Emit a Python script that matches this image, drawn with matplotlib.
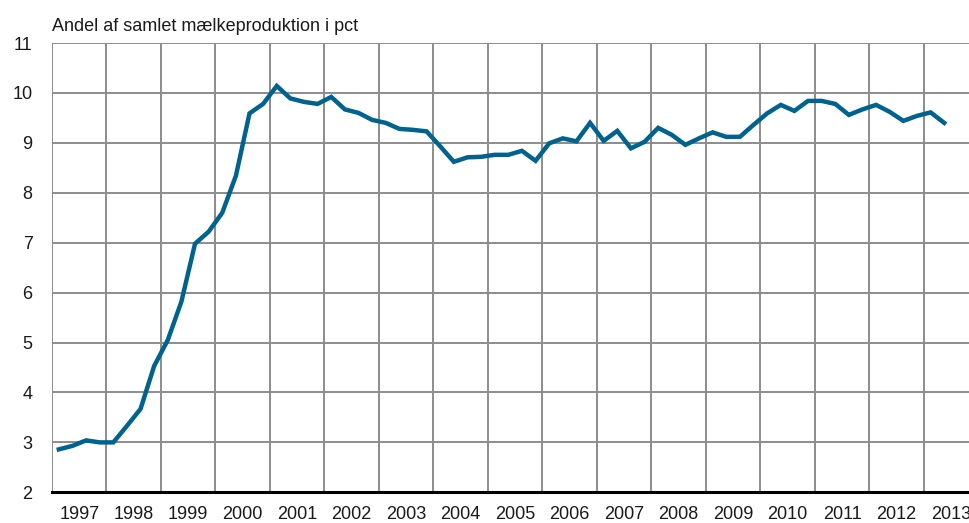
import numpy as np
import matplotlib
matplotlib.use("Agg")
import matplotlib.pyplot as plt
from matplotlib.ticker import FixedLocator

plt.rcParams['font.family'] = ['Liberation Sans Narrow', 'Liberation Sans', 'DejaVu Sans']

# Quarterly share of total milk production (pct), 1997Q1 - 2013Q2
values = [
    2.86, 2.93, 3.04, 3.00,   # 1997
    3.00, 3.33, 3.67, 4.53,   # 1998
    5.05, 5.82, 6.98, 7.22,   # 1999
    7.60, 8.34, 9.59, 9.78,   # 2000
    10.14, 9.89, 9.82, 9.78,  # 2001
    9.92, 9.67, 9.60, 9.46,   # 2002
    9.40, 9.28, 9.26, 9.23,   # 2003
    8.93, 8.62, 8.71, 8.72,   # 2004
    8.76, 8.76, 8.84, 8.64,   # 2005
    8.99, 9.09, 9.03, 9.40,   # 2006
    9.04, 9.24, 8.89, 9.02,   # 2007
    9.30, 9.16, 8.96, 9.09,   # 2008
    9.21, 9.12, 9.12, 9.36,   # 2009
    9.59, 9.76, 9.64, 9.84,   # 2010
    9.84, 9.78, 9.56, 9.67,   # 2011
    9.76, 9.62, 9.44, 9.54,   # 2012
    9.61, 9.40,               # 2013
]
first_year = 1997
years = list(range(1997, 2014))
y_ticks = list(range(2, 12))
title = "Andel af samlet mælkeproduktion i pct"

# x position = middle of each quarter
x = first_year + (np.arange(len(values)) + 0.5) / 4

fig = plt.figure(figsize=(9.69, 5.23), dpi=100)
ax = fig.add_axes([52 / 969, 1 - 492.3 / 523, 1 - 52 / 969, (492.3 - 43) / 523])

ax.plot(x, values, color='#00628f', linewidth=3.2, solid_joinstyle='miter', zorder=3)

ax.set_xlim(1997, 2013.83)
ax.set_ylim(2, 11)

# grid at year boundaries, labels centred in each year
ax.xaxis.set_major_locator(FixedLocator(years + [2014]))
ax.xaxis.set_minor_locator(FixedLocator([yr + 0.5 for yr in years]))
ax.set_xticklabels([])
ax.set_xticklabels([str(yr) for yr in years], minor=True)
ax.set_yticks(y_ticks)
ax.set_yticklabels([str(v) for v in y_ticks])

ax.grid(True, which='major', color='#8c8c8c', linewidth=1.4, zorder=1)
ax.tick_params(axis='both', which='both', length=0, labelsize=13, colors='#1a1a1a')
ax.tick_params(axis='y', pad=14)
ax.tick_params(axis='x', which='minor', pad=10)

for side in ['top', 'right', 'left']:
    ax.spines[side].set_visible(False)
ax.spines['bottom'].set_color('black')
ax.spines['bottom'].set_linewidth(2.2)
ax.spines['bottom'].set_zorder(4)

fig.text(52 / 969, 1 - 31 / 523, title, fontsize=13, color='#1a1a1a',
         ha='left', va='baseline')

plt.savefig('out.png', dpi=100, facecolor='white')
